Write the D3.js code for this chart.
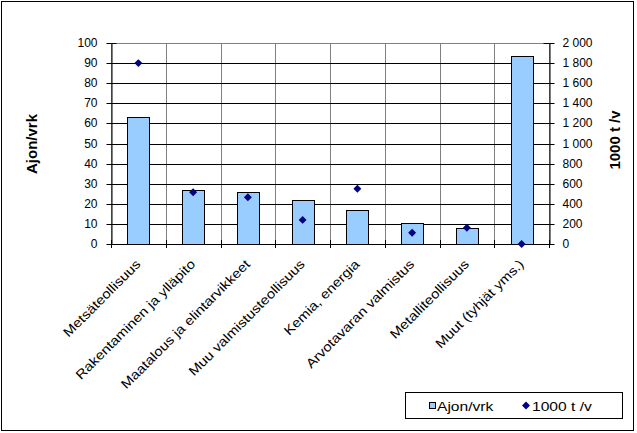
<!DOCTYPE html>
<html><head><meta charset="utf-8">
<script src="https://cdn.jsdelivr.net/npm/d3@7"></script>
<style>body{margin:0;background:#fff}svg{display:block}text{font-family:"Liberation Sans",Arial,sans-serif}</style>
</head><body>
<svg id="c" width="637" height="433"></svg>
<script>
const categories = ["Metsäteollisuus","Rakentaminen ja ylläpito","Maatalous ja elintarvikkeet","Muu valmistusteollisuus","Kemia, energia","Arvotavaran valmistus","Metalliteollisuus","Muut (tyhjät yms.)"];
const ajonVrk = [63, 27, 26, 22, 17, 10.3, 7.8, 93.5];
const tonnit = [1800, 515, 465, 240, 550, 112, 162, 0];
const leftTicks = [0,10,20,30,40,50,60,70,80,90,100];
const rightTicks = [0,200,400,600,800,1000,1200,1400,1600,1800,2000];
const seriesNames = ["Ajon/vrk","1000 t /v"];

const svg = d3.select("#c");
const L = 111, R = 549, T = 43, B = 244;
const x = d3.scaleBand().domain(categories).range([L, R]).paddingInner(0).paddingOuter(0);
const yL = d3.scaleLinear().domain([0,100]).range([B, T]);
const yR = d3.scaleLinear().domain([0,2000]).range([B, T]);
const fmt = v => d3.format(",")(v).replace(/,/g, " ");
function stretch(sel, k){
  sel.each(function(){
    const w = this.getComputedTextLength();
    d3.select(this).attr("textLength", w*k).attr("lengthAdjust","spacingAndGlyphs");
  });
}

// outer border
svg.append("rect").attr("x",1.5).attr("y",1.5).attr("width",632).attr("height",429)
  .attr("fill","#fff").attr("stroke","#000").attr("stroke-width",1);

// plot area border (gray)
svg.append("rect").attr("x",L+0.5).attr("y",T+0.5).attr("width",R-L).attr("height",B-T)
  .attr("fill","none").attr("stroke","#808080");

// vertical gridlines (gray)
categories.slice(1).forEach(c => {
  svg.append("line").attr("x1",Math.round(x(c))+0.5).attr("x2",Math.round(x(c))+0.5)
    .attr("y1",T).attr("y2",B).attr("stroke","#808080");
});
// horizontal gridlines (black)
leftTicks.filter(t => t>0 && t<100).forEach(t => {
  const yy = Math.round(yL(t))+0.5;
  svg.append("line").attr("x1",L).attr("x2",R).attr("y1",yy).attr("y2",yy).attr("stroke","#000");
});

// bars
const bw = 22;
svg.append("g").selectAll("rect").data(ajonVrk).join("rect")
  .attr("x",(d,i)=>Math.round(x(categories[i])+x.bandwidth()/2-bw/2)+0.5)
  .attr("y",d=>Math.round(yL(d))+0.5)
  .attr("width",bw).attr("height",d=>Math.round(yL(0))-Math.round(yL(d)))
  .attr("fill","#99CCFF").attr("stroke","#000");

// axes
const gL = svg.append("g").attr("transform",`translate(${L+0.5},0)`)
  .call(d3.axisLeft(yL).tickValues(leftTicks).tickSize(5).tickSizeOuter(0));
const gR = svg.append("g").attr("transform",`translate(${R+0.5},0)`)
  .call(d3.axisRight(yR).tickValues(rightTicks).tickFormat(fmt).tickSize(5).tickSizeOuter(0));
[gL,gR].forEach(g=>{
  g.select(".domain").attr("stroke","#000");
  g.selectAll(".tick line").attr("stroke","#000");
  g.selectAll("text").attr("font-size",12).attr("fill","#000").attr("font-family","Liberation Sans, Arial, sans-serif");
});
// cross ticks
gL.selectAll(".tick").append("line").attr("x1",0).attr("x2",5).attr("stroke","#000");
gR.selectAll(".tick").append("line").attr("x1",-6).attr("x2",0).attr("stroke","#000");
gL.selectAll(".tick text").attr("x",-14);
gR.selectAll(".tick text").attr("x",13);
gL.selectAll(".tick").attr("transform",d=>`translate(0,${Math.round(yL(d))+0.5})`);
gR.selectAll(".tick").attr("transform",d=>`translate(0,${Math.round(yR(d))+0.5})`);

// category axis
const by = Math.round(B)+0.5;
svg.append("line").attr("x1",L).attr("x2",R+1).attr("y1",by).attr("y2",by).attr("stroke","#000");
categories.concat([null]).forEach((c,i)=>{
  const xx = Math.round(c ? x(c) : R)+0.5;
  svg.append("line").attr("x1",xx).attr("x2",xx).attr("y1",B-4).attr("y2",B+4).attr("stroke","#000");
});
const catText = svg.append("g").selectAll("text").data(categories).join("text")
  .attr("transform",d=>`translate(${x(d)+x.bandwidth()/2+3},${B+21}) rotate(-45)`)
  .attr("text-anchor","end").attr("font-size",13).attr("fill","#000").text(d=>d);
stretch(catText, 1.15);

// diamonds
const diamond = d3.symbol().type(d3.symbolDiamond2).size(40);
svg.append("g").selectAll("path").data(tonnit).join("path")
  .attr("transform",(d,i)=>`translate(${x(categories[i])+x.bandwidth()/2},${yR(d)})`)
  .attr("d",diamond).attr("fill","#000080");

// axis titles
svg.append("text").attr("transform",`translate(37,144) rotate(-90)`).attr("text-anchor","middle")
  .attr("font-size",15).attr("font-weight","bold").text("Ajon/vrk");
svg.append("text").attr("transform",`translate(620,140) rotate(-90)`).attr("text-anchor","middle")
  .attr("font-size",15).attr("font-weight","bold").text("1000 t /v");

// legend
svg.append("rect").attr("x",405.5).attr("y",392.5).attr("width",217).attr("height",26)
  .attr("fill","#fff").attr("stroke","#000");
svg.append("rect").attr("x",429.5).attr("y",402.5).attr("width",6).attr("height",6)
  .attr("fill","#99CCFF").attr("stroke","#000");
const lt1 = svg.append("text").attr("x",437).attr("y",410.5).attr("font-size",13).text(seriesNames[0]);
svg.append("path").attr("transform","translate(526,405.5)").attr("d",diamond).attr("fill","#000080");
const lt2 = svg.append("text").attr("x",532).attr("y",410.5).attr("font-size",13).text(seriesNames[1]);
stretch(lt1, 1.2); stretch(lt2, 1.2);
</script>
</body></html>
